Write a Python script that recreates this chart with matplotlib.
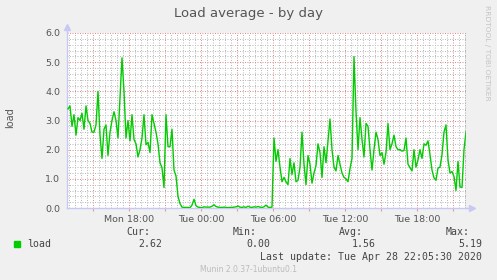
"""Munin 'Load average - by day' graph, redrawn with matplotlib."""

import numpy as np
import matplotlib
matplotlib.use("Agg")
import matplotlib.pyplot as plt
from matplotlib.patches import Rectangle
from matplotlib.ticker import MultipleLocator, FuncFormatter

# 10-minute samples, last one at Tue 22:05 (hours counted from Mon 00:00)
END_HOUR = 46 + 5 / 60
WINDOW_HOURS = 33.25
STEP_MIN = 10

load = [
    # Mon afternoon / evening
    3.4, 3.5, 2.8, 3.2, 2.5, 3.1, 3.0, 3.25, 2.7, 3.5,
    3.0, 2.9, 2.6, 2.6, 2.85, 4.0, 2.5, 1.7, 2.7, 2.85,
    1.8, 2.6, 3.0, 3.3, 3.0, 2.4, 3.8, 5.15, 4.0, 2.4,
    3.0, 2.3, 3.2, 2.35, 2.2, 1.75, 2.0, 2.4, 3.2, 2.17,
    2.25, 1.9, 3.2, 2.9, 2.6, 2.2, 1.55, 1.38, 0.7, 3.2,
    2.1, 2.1, 2.7, 1.3, 1.1, 0.4, 0.15, 0.03, 0.02, 0.02,
    # night, almost idle
    0.02, 0.01, 0.1, 0.3, 0.08, 0.03, 0.02, 0.01, 0.04, 0.03,
    0.03, 0.03, 0.06, 0.11, 0.05, 0.03, 0.02, 0.02, 0.03, 0.02,
    0.01, 0.02, 0.02, 0.03, 0.04, 0.07, 0.03, 0.02, 0.04, 0.02,
    0.06, 0.03, 0.02, 0.04, 0.03, 0.05, 0.03, 0.02, 0.04, 0.1,
    0.03, 0.02, 0.03,
    # Tue morning onwards
    2.4, 1.6, 2.0, 1.4, 0.9, 1.05, 0.9,
    0.8, 1.7, 1.15, 1.55, 0.9, 0.95, 1.4, 2.6, 1.5, 0.8,
    1.8, 1.5, 0.85, 1.2, 1.45, 2.2, 1.9, 1.05, 2.1, 1.55,
    2.3, 3.05, 2.0, 1.4, 1.27, 1.8, 1.5, 1.2, 1.05, 1.0,
    0.9, 1.35, 1.7, 5.19, 3.3, 2.0, 3.1, 2.35, 1.75, 2.9,
    2.8, 2.0, 1.3, 2.0, 2.6, 2.35, 1.8, 1.9, 1.5, 1.9,
    2.9, 2.0, 2.2, 2.5, 2.1, 2.0, 2.0, 1.95, 1.97, 2.4,
    1.5, 1.38, 1.27, 2.0, 1.4, 1.65, 2.0, 1.7, 2.2, 2.15,
    2.3, 1.83, 1.3, 1.03, 0.95, 1.37, 1.4, 1.83, 2.6, 2.85,
    1.65, 1.2, 1.25, 1.08, 0.6, 1.6, 0.72, 0.7, 2.0, 2.62,
]

TICK_HOURS = [18, 24, 30, 36, 42]
TICK_LABELS = ["Mon 18:00", "Tue 00:00", "Tue 06:00", "Tue 12:00", "Tue 18:00"]

STAT_NAMES = ["Cur:", "Min:", "Avg:", "Max:"]
STAT_VALUES = ["2.62", "0.00", "1.56", "5.19"]
LAST_UPDATE = "Last update: Tue Apr 28 22:05:30 2020"

W, H = 497, 280
BG = "#f0f0f0"
TXT = "#555555"
AXIS = "#c8c8f4"
GREEN = "#00cc00"


def fx(x):
    return x / W


def fy(y):
    return 1 - y / H


n = len(load)
times = END_HOUR - (n - 1 - np.arange(n)) * STEP_MIN / 60

fig = plt.figure(figsize=(W / 100, H / 100), dpi=100, facecolor=BG)
ax = fig.add_axes([fx(67), fy(208), (466 - 67) / W, (208 - 33) / H])
ax.set_facecolor("white")

ax.plot(times, load, color=GREEN, linewidth=1.0, zorder=3)

ax.set_xlim(END_HOUR - WINDOW_HOURS, END_HOUR)
ax.set_ylim(0, 6)

# grid: grey dotted minor, red dotted major
ax.xaxis.set_major_locator(MultipleLocator(3))
ax.xaxis.set_minor_locator(MultipleLocator(0.5))
ax.yaxis.set_major_locator(MultipleLocator(1))
ax.yaxis.set_minor_locator(MultipleLocator(0.2))
ax.grid(which="minor", color="#bcbcbc", linestyle=(0, (1, 1.5)), linewidth=0.72)
ax.grid(which="major", color="#e08c8c", linestyle=(0, (1, 1.5)), linewidth=0.72)
ax.set_axisbelow(True)

labels = dict(zip(TICK_HOURS, TICK_LABELS))
ax.xaxis.set_major_formatter(
    FuncFormatter(lambda v, p: labels.get(int(round(v)), "")))
ax.yaxis.set_major_formatter(FuncFormatter(lambda v, p: f"{v:.1f}"))

ax.tick_params(axis="x", which="major", length=2.2, width=0.8,
               color="#e89a9a", pad=2.5, labelsize=6.8, labelcolor=TXT)
ax.tick_params(axis="x", which="minor", length=0)
ax.tick_params(axis="y", which="both", length=0, pad=5,
               labelsize=6.8, labelcolor=TXT)

for side in ("top", "right"):
    ax.spines[side].set_visible(False)
for side in ("left", "bottom"):
    ax.spines[side].set_color(AXIS)
    ax.spines[side].set_linewidth(1.0)

# right border line and axis arrows
ax.axvline(END_HOUR, color="#9a9a9a", linewidth=1.0, zorder=4)
ax.plot([0, 0], [1, 1.03], color=AXIS, lw=1.0, transform=ax.transAxes,
        clip_on=False)
ax.plot([1, 1.012], [0, 0], color=AXIS, lw=1.0, transform=ax.transAxes,
        clip_on=False)
ax.plot([0], [1.035], marker="^", color=AXIS, markersize=4.5,
        transform=ax.transAxes, clip_on=False)
ax.plot([1.015], [0], marker=">", color=AXIS, markersize=4.5,
        transform=ax.transAxes, clip_on=False)

# titles
fig.text(fx(248.5), fy(13), "Load average - by day", ha="center",
         va="center", fontsize=9.5, color=TXT)
fig.text(fx(10), fy(118), "load", rotation=90, ha="center", va="center",
         fontsize=7, color=TXT)
fig.text(fx(487), fy(5), "RRDTOOL / TOBI OETIKER", rotation=270,
         ha="center", va="top", fontsize=5.4, color="#c4c4c4")

# legend block
mono = dict(family="DejaVu Sans Mono", fontsize=7.1, color="#444444")
fig.add_artist(Rectangle((fx(14), fy(247)), 6 / W, 6 / H, color=GREEN,
                         transform=fig.transFigure))
fig.text(fx(26.7), fy(244.3), "load", ha="left", va="center", **mono)
name_right = [150, 256.7, 363.3, 470]
value_right = [162.7, 270, 375.7, 482.3]
for name, val, xn, xv in zip(STAT_NAMES, STAT_VALUES, name_right, value_right):
    fig.text(fx(xn), fy(232), name, ha="right", va="center", **mono)
    fig.text(fx(xv), fy(244.3), val, ha="right", va="center", **mono)
fig.text(fx(482.3), fy(256.7), LAST_UPDATE, ha="right", va="center", **mono)

fig.text(fx(248), fy(269.5), "Munin 2.0.37-1ubuntu0.1", ha="center",
         va="center", fontsize=5.5, color="#bbbbbb")

fig.savefig("out.png", dpi=100, facecolor=BG)
